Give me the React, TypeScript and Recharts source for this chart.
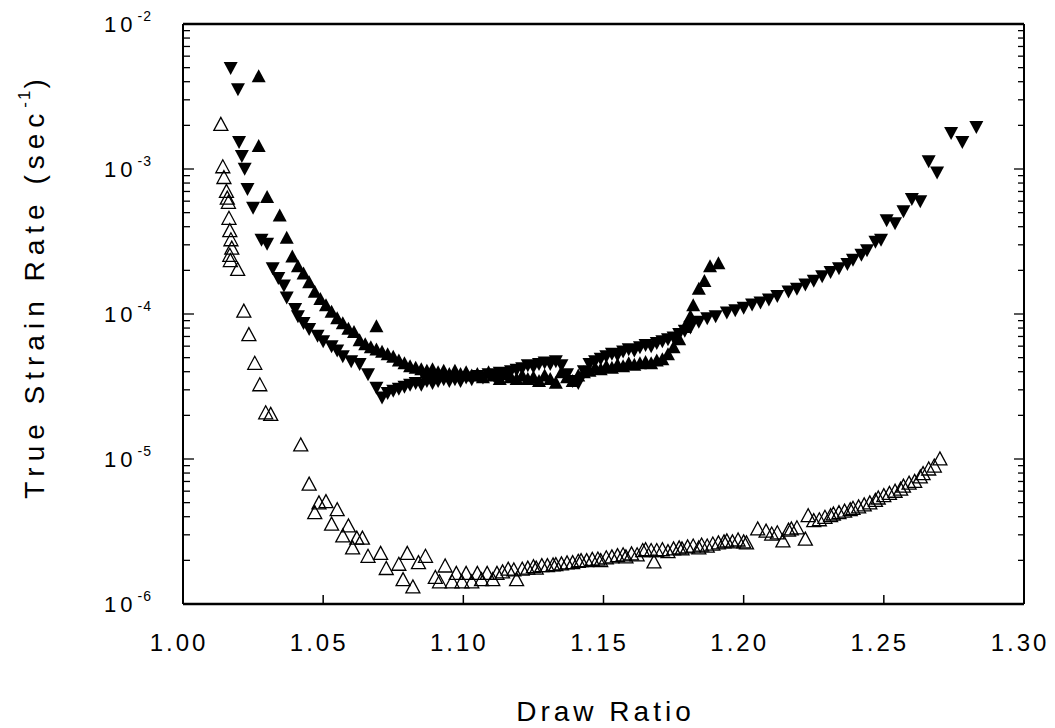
import { ScatterChart, Scatter, XAxis, YAxis } from 'recharts'

// draw ratio vs true strain rate, three runs
const X_TICKS = [1.0, 1.05, 1.1, 1.15, 1.2, 1.25, 1.3]
const DECADES = [-6, -5, -4, -3]
const MINOR_STEPS = [1, 2, 3, 4, 5, 6, 7, 8, 9]
const Y_TICKS = [...DECADES.flatMap((d) => MINOR_STEPS.map((k) => k * 10 ** d)), 1e-2]

const X_TITLE = 'Draw Ratio'
const Y_TITLE = 'True Strain Rate (sec'
const Y_TITLE_SUP = '-1'

// filled upward triangles
const solidUp: [number, number][] = [
  [1.027, 4.3e-3], [1.027, 1.42e-3], [1.030, 6.3e-4], [1.0345, 4.7e-4], [1.037, 3.3e-4],
  [1.039, 2.45e-4], [1.041, 2.1e-4], [1.043, 1.87e-4], [1.045, 1.63e-4], [1.047, 1.4e-4],
  [1.049, 1.25e-4], [1.051, 1.13e-4], [1.053, 1.02e-4], [1.055, 9.2e-5], [1.057, 8.5e-5],
  [1.059, 7.8e-5], [1.061, 7.4e-5], [1.063, 6.5e-5], [1.065, 6.1e-5], [1.067, 5.8e-5],
  [1.069, 8.1e-5], [1.069, 5.6e-5], [1.071, 5.4e-5], [1.073, 5.2e-5], [1.075, 5.0e-5],
  [1.077, 4.7e-5], [1.079, 4.5e-5], [1.081, 4.3e-5], [1.083, 4.2e-5], [1.085, 4.1e-5],
  [1.087, 4.0e-5], [1.089, 4.1e-5], [1.091, 3.9e-5], [1.093, 4.0e-5], [1.095, 3.8e-5],
  [1.097, 4.0e-5], [1.099, 3.8e-5], [1.101, 3.9e-5], [1.103, 3.7e-5], [1.105, 3.8e-5],
  [1.107, 3.6e-5], [1.109, 3.9e-5], [1.111, 3.7e-5], [1.113, 3.5e-5], [1.115, 3.8e-5],
  [1.117, 3.6e-5], [1.119, 3.5e-5], [1.121, 3.7e-5], [1.123, 3.5e-5], [1.125, 3.6e-5],
  [1.127, 3.4e-5], [1.129, 3.7e-5], [1.131, 3.5e-5], [1.133, 3.3e-5], [1.135, 3.9e-5],
  [1.137, 3.6e-5], [1.139, 3.4e-5], [1.141, 3.7e-5], [1.143, 3.9e-5], [1.145, 4.0e-5],
  [1.147, 4.2e-5], [1.149, 4.1e-5], [1.151, 4.3e-5], [1.153, 4.2e-5], [1.155, 4.4e-5],
  [1.157, 4.3e-5], [1.159, 4.5e-5], [1.161, 4.4e-5], [1.163, 4.5e-5], [1.165, 4.6e-5],
  [1.167, 4.5e-5], [1.169, 4.7e-5], [1.171, 4.8e-5], [1.173, 5.2e-5], [1.175, 5.8e-5],
  [1.177, 6.6e-5], [1.179, 8.0e-5], [1.181, 9.5e-5], [1.182, 1.13e-4], [1.184, 1.47e-4],
  [1.186, 1.66e-4], [1.188, 2.1e-4], [1.191, 2.2e-4],
]

// filled downward triangles
const solidDown: [number, number][] = [
  [1.017, 5.05e-3], [1.0196, 3.6e-3], [1.020, 1.56e-3], [1.021, 1.25e-3], [1.022, 1.02e-3],
  [1.023, 7.4e-4], [1.025, 5.5e-4], [1.028, 3.3e-4], [1.030, 3.1e-4], [1.032, 2.1e-4],
  [1.034, 1.8e-4], [1.036, 1.6e-4], [1.037, 1.32e-4], [1.040, 1.1e-4], [1.041, 9.8e-5],
  [1.043, 8.8e-5], [1.045, 8.0e-5], [1.048, 7.2e-5], [1.050, 6.6e-5], [1.053, 6.1e-5],
  [1.055, 5.7e-5], [1.057, 5.2e-5], [1.060, 4.8e-5], [1.063, 4.6e-5], [1.066, 3.9e-5],
  [1.069, 3.15e-5], [1.071, 2.7e-5], [1.073, 2.9e-5], [1.075, 3.0e-5], [1.077, 3.1e-5],
  [1.079, 3.2e-5], [1.081, 3.3e-5], [1.083, 3.4e-5], [1.085, 3.3e-5], [1.087, 3.5e-5],
  [1.089, 3.4e-5], [1.091, 3.5e-5], [1.093, 3.6e-5], [1.095, 3.5e-5], [1.097, 3.6e-5],
  [1.099, 3.5e-5], [1.101, 3.7e-5], [1.103, 3.6e-5], [1.105, 3.8e-5], [1.107, 3.7e-5],
  [1.109, 3.9e-5], [1.111, 3.8e-5], [1.113, 4.0e-5], [1.115, 3.9e-5], [1.117, 4.1e-5],
  [1.119, 4.2e-5], [1.121, 4.3e-5], [1.123, 4.5e-5], [1.125, 4.4e-5], [1.127, 4.6e-5],
  [1.129, 4.7e-5], [1.131, 4.6e-5], [1.133, 4.8e-5], [1.135, 4.5e-5], [1.137, 3.9e-5],
  [1.139, 3.5e-5], [1.141, 3.4e-5], [1.143, 4.1e-5], [1.145, 4.6e-5], [1.147, 4.8e-5],
  [1.149, 5.0e-5], [1.151, 5.2e-5], [1.153, 5.4e-5], [1.155, 5.3e-5], [1.157, 5.6e-5],
  [1.159, 5.8e-5], [1.161, 5.7e-5], [1.163, 6.0e-5], [1.165, 6.2e-5], [1.167, 6.1e-5],
  [1.169, 6.4e-5], [1.171, 6.6e-5], [1.173, 6.8e-5], [1.175, 7.0e-5], [1.177, 7.4e-5],
  [1.179, 7.8e-5], [1.181, 8.2e-5], [1.184, 9.0e-5], [1.187, 9.5e-5], [1.190, 9.8e-5],
  [1.194, 1.04e-4], [1.197, 1.08e-4], [1.200, 1.12e-4], [1.203, 1.18e-4], [1.206, 1.22e-4],
  [1.209, 1.28e-4], [1.212, 1.35e-4], [1.216, 1.45e-4], [1.219, 1.52e-4], [1.222, 1.62e-4],
  [1.225, 1.72e-4], [1.228, 1.85e-4], [1.231, 1.98e-4], [1.234, 2.1e-4], [1.237, 2.25e-4],
  [1.239, 2.4e-4], [1.242, 2.6e-4], [1.244, 2.8e-4], [1.247, 3.2e-4], [1.249, 3.3e-4],
  [1.251, 4.5e-4], [1.254, 4.3e-4], [1.257, 5.2e-4], [1.260, 6.3e-4], [1.263, 6.1e-4],
  [1.266, 1.15e-3], [1.269, 9.6e-4], [1.274, 1.8e-3], [1.278, 1.56e-3], [1.283, 1.98e-3],
]

// open upward triangles
const openUp: [number, number][] = [
  [1.0135, 2.0e-3], [1.0142, 1.02e-3], [1.0146, 8.6e-4], [1.0155, 6.9e-4], [1.0158, 6.2e-4],
  [1.0162, 5.8e-4], [1.0164, 4.5e-4], [1.0167, 3.7e-4], [1.0171, 3.2e-4], [1.0174, 2.8e-4],
  [1.0167, 2.5e-4], [1.0169, 2.3e-4], [1.0195, 2.0e-4], [1.0217, 1.03e-4], [1.0235, 7.1e-5],
  [1.0256, 4.5e-5], [1.0274, 3.2e-5], [1.0295, 2.05e-5], [1.0313, 2.0e-5], [1.042, 1.23e-5],
  [1.045, 6.6e-6], [1.047, 4.2e-6], [1.0485, 4.9e-6], [1.051, 5.0e-6], [1.053, 3.5e-6],
  [1.055, 4.4e-6], [1.057, 2.9e-6], [1.059, 3.4e-6], [1.0605, 2.4e-6], [1.062, 2.8e-6],
  [1.064, 2.8e-6], [1.066, 2.1e-6], [1.0705, 2.2e-6], [1.0725, 1.73e-6], [1.077, 1.85e-6],
  [1.0785, 1.45e-6], [1.080, 2.2e-6], [1.082, 1.29e-6], [1.084, 1.9e-6], [1.0865, 2.1e-6],
  [1.090, 1.5e-6], [1.0915, 1.4e-6], [1.0935, 1.8e-6], [1.096, 1.4e-6], [1.0975, 1.6e-6],
  [1.0995, 1.4e-6], [1.101, 1.6e-6], [1.103, 1.4e-6], [1.105, 1.6e-6], [1.1065, 1.45e-6],
  [1.1085, 1.6e-6], [1.1105, 1.45e-6], [1.112, 1.6e-6], [1.114, 1.64e-6], [1.116, 1.71e-6],
  [1.118, 1.69e-6], [1.119, 1.45e-6], [1.121, 1.71e-6], [1.123, 1.74e-6], [1.125, 1.78e-6],
  [1.126, 1.74e-6], [1.128, 1.81e-6], [1.130, 1.81e-6], [1.132, 1.83e-6], [1.133, 1.84e-6],
  [1.135, 1.86e-6], [1.137, 1.89e-6], [1.139, 1.9e-6], [1.141, 1.94e-6], [1.142, 1.96e-6],
  [1.144, 1.96e-6], [1.146, 2.0e-6], [1.148, 2.01e-6], [1.149, 1.96e-6], [1.151, 2.05e-6],
  [1.153, 2.08e-6], [1.155, 2.12e-6], [1.157, 2.15e-6], [1.158, 2.08e-6], [1.160, 2.18e-6],
  [1.162, 2.15e-6], [1.164, 2.3e-6], [1.165, 2.33e-6], [1.167, 2.3e-6], [1.168, 1.92e-6],
  [1.169, 2.3e-6], [1.171, 2.33e-6], [1.173, 2.26e-6], [1.175, 2.36e-6], [1.177, 2.4e-6],
  [1.178, 2.36e-6], [1.180, 2.44e-6], [1.182, 2.47e-6], [1.184, 2.4e-6], [1.185, 2.51e-6],
  [1.187, 2.47e-6], [1.189, 2.55e-6], [1.191, 2.6e-6], [1.193, 2.64e-6], [1.194, 2.68e-6],
  [1.196, 2.64e-6], [1.198, 2.72e-6], [1.200, 2.64e-6], [1.201, 2.6e-6], [1.205, 3.24e-6],
  [1.208, 3.13e-6], [1.210, 2.99e-6], [1.212, 3.05e-6], [1.214, 2.68e-6], [1.216, 3.18e-6],
  [1.217, 3.24e-6], [1.219, 3.3e-6], [1.222, 2.76e-6], [1.223, 4.0e-6], [1.225, 3.7e-6],
  [1.227, 3.75e-6], [1.229, 3.9e-6], [1.231, 4.0e-6], [1.232, 4.11e-6], [1.234, 4.2e-6],
  [1.236, 4.3e-6], [1.238, 4.4e-6], [1.239, 4.5e-6], [1.241, 4.6e-6], [1.243, 4.75e-6],
  [1.245, 4.9e-6], [1.247, 5.1e-6], [1.248, 5.3e-6], [1.250, 5.5e-6], [1.252, 5.7e-6],
  [1.254, 5.9e-6], [1.256, 6.1e-6], [1.257, 6.4e-6], [1.259, 6.7e-6], [1.261, 6.9e-6],
  [1.263, 7.4e-6], [1.264, 7.8e-6], [1.266, 8.4e-6], [1.268, 8.8e-6], [1.270, 9.85e-6],
]

const toPoints = (rows: [number, number][]) => rows.map(([x, y]) => ({ x, y }))

const FONT = '"Liberation Sans", Arial, Helvetica, sans-serif'
const INK = '#000'

const isDecade = (v: number) => Math.abs(Math.log10(v) - Math.round(Math.log10(v))) < 1e-6

function TriUp(props: any) {
  const { cx, cy } = props
  return <polygon points={`${cx},${cy - 8} ${cx - 7},${cy + 5} ${cx + 7},${cy + 5}`} fill={INK} />
}

function TriDown(props: any) {
  const { cx, cy } = props
  return <polygon points={`${cx - 7},${cy - 5} ${cx + 7},${cy - 5} ${cx},${cy + 8}`} fill={INK} />
}

function TriOpen(props: any) {
  const { cx, cy } = props
  return (
    <polygon
      points={`${cx},${cy - 8} ${cx - 7},${cy + 5} ${cx + 7},${cy + 5}`}
      fill="none"
      stroke={INK}
      strokeWidth={1.3}
    />
  )
}

function BottomTick(props: any) {
  const { x, y, payload } = props
  return (
    <g>
      <line x1={x} x2={x} y1={y} y2={y - 9} stroke={INK} strokeWidth={1.5} />
      <text x={x - 4} y={y + 47} textAnchor="middle" fontFamily={FONT} fontSize={24} letterSpacing={3} fill={INK}>
        {Number(payload.value).toFixed(2)}
      </text>
    </g>
  )
}

function TopTick(props: any) {
  const { x, y } = props
  return <line x1={x} x2={x} y1={y} y2={y + 8} stroke={INK} strokeWidth={1.5} />
}

function LeftTick(props: any) {
  const { x, y, payload } = props
  const major = isDecade(payload.value)
  const exp = Math.round(Math.log10(payload.value))
  return (
    <g>
      <line x1={x} x2={x + (major ? 11 : 7)} y1={y} y2={y} stroke={INK} strokeWidth={1.3} />
      {major && (
        <text x={x - 31} y={y + 8} textAnchor="end" fontFamily={FONT} fontSize={22} letterSpacing={4} fill={INK}>
          10
          <tspan dx={1} dy={-11} fontSize={14} letterSpacing={1}>{`${exp}`}</tspan>
        </text>
      )}
    </g>
  )
}

function RightTick(props: any) {
  const { x, y, payload } = props
  const major = isDecade(payload.value)
  return <line x1={x} x2={x - (major ? 10 : 6)} y1={y} y2={y} stroke={INK} strokeWidth={1.3} />
}

function XTitle(props: any) {
  const vb = props.viewBox ?? { x: 0, y: 0, width: 0, height: 0 }
  return (
    <text x={vb.x + vb.width / 2 + 2} y={vb.y + 117} textAnchor="middle" fontFamily={FONT} fontSize={28} letterSpacing={4} fill={INK}>
      {X_TITLE}
    </text>
  )
}

function YTitle(props: any) {
  const vb = props.viewBox ?? { x: 0, y: 0, width: 0, height: 0 }
  const cx = vb.x + 26
  const cy = vb.y + vb.height / 2 - 28
  return (
    <text
      x={cx}
      y={cy}
      transform={`rotate(-90, ${cx}, ${cy})`}
      textAnchor="middle"
      dominantBaseline="central"
      fontFamily={FONT}
      fontSize={28}
      letterSpacing={6}
      fill={INK}
    >
      {Y_TITLE}
      <tspan dy={-10} fontSize={17} letterSpacing={2}>{Y_TITLE_SUP}</tspan>
      <tspan dy={10}>)</tspan>
    </text>
  )
}

export default function App() {
  return (
    <div style={{ width: 1047, height: 720, background: '#fff' }}>
      <ScatterChart width={1047} height={720} margin={{ top: 0, right: 0, bottom: 0, left: 0 }}>
        <XAxis
          type="number"
          dataKey="x"
          domain={[1.0, 1.3]}
          ticks={X_TICKS}
          interval={0}
          allowDataOverflow
          height={124}
          tickLine={false}
          tickSize={0}
          tickMargin={0}
          axisLine={{ stroke: INK, strokeWidth: 2.5 }}
          tick={BottomTick}
          label={XTitle}
        />
        <XAxis
          xAxisId="top"
          orientation="top"
          type="number"
          domain={[1.0, 1.3]}
          ticks={X_TICKS}
          interval={0}
          allowDataOverflow
          height={16}
          tickLine={false}
          tickSize={0}
          tickMargin={0}
          axisLine={{ stroke: INK, strokeWidth: 2.5 }}
          tick={TopTick}
        />
        <YAxis
          type="number"
          dataKey="y"
          scale="log"
          domain={[1e-6, 1e-2]}
          ticks={Y_TICKS}
          interval={0}
          allowDataOverflow
          width={175}
          tickLine={false}
          tickSize={0}
          tickMargin={0}
          axisLine={{ stroke: INK, strokeWidth: 2 }}
          tick={LeftTick}
          label={YTitle}
        />
        <YAxis
          yAxisId="right"
          orientation="right"
          type="number"
          scale="log"
          domain={[1e-6, 1e-2]}
          ticks={Y_TICKS}
          interval={0}
          allowDataOverflow
          width={31}
          tickLine={false}
          tickSize={0}
          tickMargin={0}
          axisLine={{ stroke: INK, strokeWidth: 2 }}
          tick={RightTick}
        />
        <Scatter data={toPoints(openUp)} shape={TriOpen} isAnimationActive={false} />
        <Scatter data={toPoints(solidDown)} shape={TriDown} isAnimationActive={false} />
        <Scatter data={toPoints(solidUp)} shape={TriUp} isAnimationActive={false} />
      </ScatterChart>
    </div>
  )
}
